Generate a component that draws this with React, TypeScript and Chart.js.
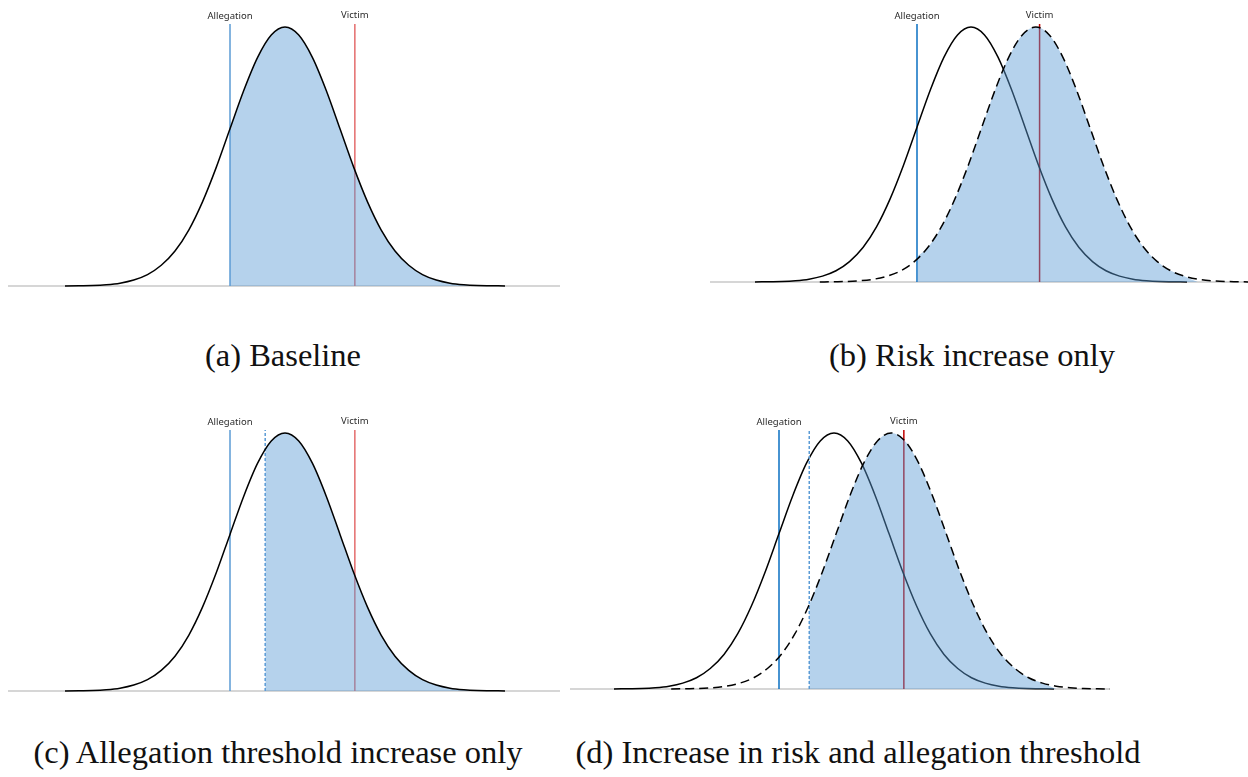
import React, { useEffect, useRef } from "react";
import { Chart, registerables } from "chart.js";
Chart.register(...registerables);

// Horizontal positions in standard-deviation units of the original distribution
const sigmaGrid = [-4, -3.75, -3.5, -3.25, -3, -2.75, -2.5, -2.25, -2, -1.75, -1.5, -1.25, -1, -0.75, -0.5, -0.25, 0, 0.25, 0.5, 0.75, 1, 1.25, 1.5, 1.75, 2, 2.25, 2.5, 2.75, 3, 3.25, 3.5, 3.75, 4];
// Curve heights (peak = 1)
const curveHeights = [0.0, 0.001, 0.002, 0.005, 0.011, 0.023, 0.044, 0.08, 0.135, 0.216, 0.325, 0.458, 0.607, 0.755, 0.882, 0.969, 1.0, 0.969, 0.882, 0.755, 0.607, 0.458, 0.325, 0.216, 0.135, 0.08, 0.044, 0.023, 0.011, 0.005, 0.002, 0.001, 0.0];

// Thresholds
const allegationThreshold = -1.0;
const victimThreshold = 1.27;
const raisedAllegation = [null, null, -0.36, -0.45];
// Risk shift of the dashed distribution per panel (a, b, c, d)
const riskShift = [0, 1.2, 0, 1.04];
// Height of the shaded curve at the start of the shading per panel
const fillStartHeight = [0.607, 0.099, 0.937, 0.329];
// Where shading ends (in sigma units of the shaded curve)
const fillEndSigma = [4, 3.0, 4, 3.0];
const lineTopValue = 1.012;

const captions = [
  "(a) Baseline",
  "(b) Risk increase only",
  "(c) Allegation threshold increase only",
  "(d) Increase in risk and allegation threshold",
];
const labelNames = ["Allegation", "Victim"];

const layouts = [
  { left: 8, top: 0, width: 552, height: 300, x0: 285, pxPerX: 55, baseY: 286, pxPerY: 259, capX: 283, capY: 339 },
  { left: 710, top: 0, width: 538, height: 300, x0: 971, pxPerX: 54, baseY: 282, pxPerY: 255, capX: 972, capY: 339 },
  { left: 8, top: 400, width: 552, height: 300, x0: 285, pxPerX: 55, baseY: 691, pxPerY: 258, capX: 278, capY: 736 },
  { left: 570, top: 400, width: 540, height: 300, x0: 834, pxPerX: 55, baseY: 689, pxPerY: 256, capX: 858, capY: 736 },
];

const styles = [
  { alleg: "#5b9bd5", victim: "#e46c6c" },
  { alleg: "#0a6fc2", victim: "#c00000" },
  { alleg: "#5b9bd5", victim: "#e46c6c" },
  { alleg: "#0a6fc2", victim: "#c00000" },
];

function curvePoints(shift: number) {
  return sigmaGrid.map((g, i) => ({ x: g + shift, y: curveHeights[i] }));
}

function fillPoints(shift: number, startX: number, startY: number, endSigma: number) {
  const pts = [{ x: startX, y: startY }];
  sigmaGrid.forEach((g, i) => {
    const x = g + shift;
    if (x > startX + 0.01 && g < endSigma - 0.01) pts.push({ x, y: curveHeights[i] });
  });
  pts.push({ x: endSigma + shift, y: 0 });
  return pts;
}

function Panel({ idx }: { idx: number }) {
  const ref = useRef<HTMLCanvasElement | null>(null);
  const L = layouts[idx];
  useEffect(() => {
    if (!ref.current) return;
    const xMin = (L.left - L.x0) / L.pxPerX;
    const xMax = (L.left + L.width - L.x0) / L.pxPerX;
    const yMax = (L.baseY - L.top) / L.pxPerY;
    const yMin = (L.baseY - (L.top + L.height)) / L.pxPerY;
    const st = styles[idx];
    const shift = riskShift[idx];
    const hasShift = shift !== 0;
    const shadeStart = raisedAllegation[idx] ?? allegationThreshold;
    const datasets: any[] = [];
    const thin = { pointRadius: 0, tension: 0, fill: false };
    // baseline
    datasets.push({ ...thin, data: [{ x: xMin, y: 0 }, { x: xMax, y: 0 }], borderColor: "#d6d6d6", borderWidth: 2, order: 60 });
    // threshold lines
    datasets.push({ ...thin, data: [{ x: allegationThreshold, y: 0 }, { x: allegationThreshold, y: lineTopValue }], borderColor: st.alleg, borderWidth: 1.5, order: 50 });
    datasets.push({ ...thin, data: [{ x: victimThreshold, y: 0 }, { x: victimThreshold, y: lineTopValue }], borderColor: st.victim, borderWidth: 1.5, order: 50 });
    if (raisedAllegation[idx] != null) {
      datasets.push({ ...thin, data: [{ x: raisedAllegation[idx], y: 0 }, { x: raisedAllegation[idx], y: lineTopValue }], borderColor: "#5b9bd5", borderWidth: 1.5, borderDash: [3, 2], order: 15 });
    }
    // original distribution
    datasets.push({
      data: curvePoints(0), borderColor: "#000", borderWidth: 1.5, pointRadius: 0,
      cubicInterpolationMode: "monotone", fill: false, order: hasShift ? 40 : 10,
    });
    // shading
    datasets.push({
      data: fillPoints(shift, shadeStart, fillStartHeight[idx], fillEndSigma[idx]),
      borderWidth: 0, borderColor: "rgba(0,0,0,0)", backgroundColor: "rgba(91,155,213,0.45)",
      pointRadius: 0, cubicInterpolationMode: "monotone", fill: "origin", order: 20,
    });
    if (hasShift) {
      datasets.push({
        data: curvePoints(shift), borderColor: "#000", borderWidth: 1.5, borderDash: [9, 5], pointRadius: 0,
        cubicInterpolationMode: "monotone", fill: false, order: 10,
      });
    }
    const labelPlugin = {
      id: "thresholdLabels",
      afterDraw(chart: any) {
        const ctx = chart.ctx;
        const xs = chart.scales.x;
        const ys = chart.scales.y;
        const yTop = ys.getPixelForValue(lineTopValue) - 8;
        ctx.save();
        ctx.font = '9.5px "Noto Sans"';
        ctx.fillStyle = "#2b2b2b";
        ctx.textAlign = "center";
        ctx.textBaseline = "middle";
        ctx.fillText(labelNames[0], xs.getPixelForValue(allegationThreshold), yTop);
        ctx.fillText(labelNames[1], xs.getPixelForValue(victimThreshold), yTop - 1);
        ctx.restore();
      },
    };
    const chart = new Chart(ref.current, {
      type: "line",
      data: { datasets },
      options: {
        animation: false,
        responsive: false,
        devicePixelRatio: 1,
        layout: { padding: 0 },
        plugins: { legend: { display: false }, tooltip: { enabled: false }, title: { display: false } },
        scales: {
          x: { type: "linear", min: xMin, max: xMax, display: false },
          y: { type: "linear", min: yMin, max: yMax, display: false },
        },
      },
      plugins: [labelPlugin],
    } as any);
    return () => chart.destroy();
  }, []);
  return (
    <canvas
      ref={ref}
      width={L.width}
      height={L.height}
      style={{ position: "absolute", left: L.left, top: L.top, width: L.width, height: L.height }}
    />
  );
}

export default function App() {
  return (
    <div style={{ position: "absolute", left: 0, top: 0, width: 1248, height: 777, background: "#fff", overflow: "hidden" }}>
      {layouts.map((_, i) => (
        <Panel key={i} idx={i} />
      ))}
      {captions.map((c, i) => (
        <div
          key={c}
          style={{
            position: "absolute",
            left: layouts[i].capX - 350,
            width: 700,
            top: layouts[i].capY,
            textAlign: "center",
            font: '32.5px "Liberation Serif"',
            lineHeight: "32px",
            color: "#111",
            whiteSpace: "nowrap",
          }}
        >
          {c}
        </div>
      ))}
    </div>
  );
}
